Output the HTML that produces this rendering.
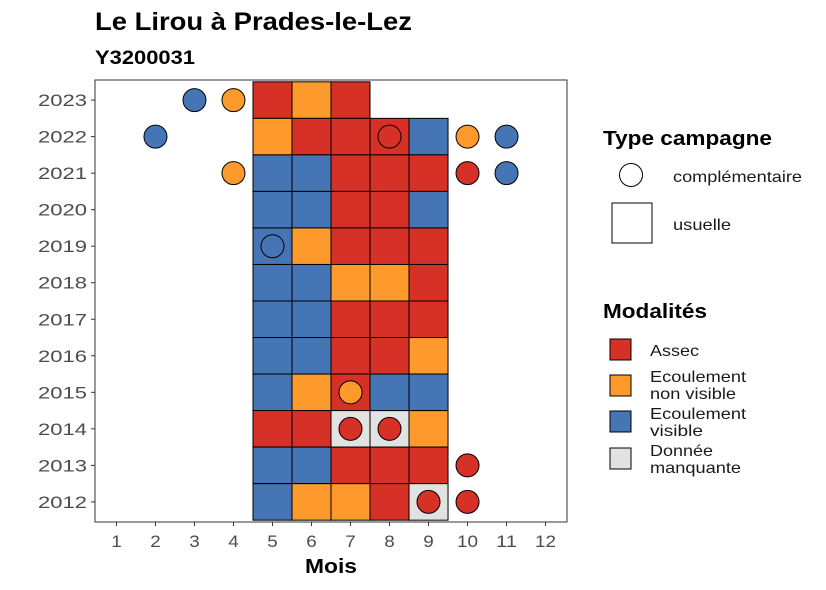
<!DOCTYPE html>
<html><head><meta charset="utf-8">
<style>
html,body{margin:0;padding:0;background:#fff;}
svg{display:block;font-family:"Liberation Sans",sans-serif;}
</style></head>
<body>
<svg id="chart" width="826" height="590" viewBox="0 0 826 590" xmlns="http://www.w3.org/2000/svg">
<text x="95" y="30" font-size="25" font-weight="bold" fill="#000" textLength="317" lengthAdjust="spacingAndGlyphs">Le Lirou à Prades-le-Lez</text>
<text x="95" y="64" font-size="19" font-weight="bold" fill="#000" textLength="100" lengthAdjust="spacingAndGlyphs">Y3200031</text>
<rect x="95" y="80" width="472" height="442" fill="#fff"/>
<g id="tiles"></g>
<g id="points"></g>
<rect x="95" y="80" width="472" height="442" fill="none" stroke="#333" stroke-width="1"/>
<g id="xaxis"></g>
<g id="yaxis"></g>
<text x="331" y="573" font-size="20" font-weight="bold" text-anchor="middle" textLength="52" lengthAdjust="spacingAndGlyphs">Mois</text>

<g>
<text x="603" y="145" font-size="20" font-weight="bold" textLength="169" lengthAdjust="spacingAndGlyphs">Type campagne</text>
<circle cx="631" cy="175" r="11.5" fill="#fff" stroke="#000" stroke-width="1"/>
<text x="673" y="182" font-size="16" fill="#1a1a1a" textLength="129" lengthAdjust="spacingAndGlyphs">complémentaire</text>
<rect x="612" y="203" width="40" height="40" fill="#fff" stroke="#000" stroke-width="1"/>
<text x="673" y="230" font-size="16" fill="#1a1a1a" textLength="58" lengthAdjust="spacingAndGlyphs">usuelle</text>
</g>
<g>
<text x="603" y="318" font-size="20" font-weight="bold" textLength="104" lengthAdjust="spacingAndGlyphs">Modalités</text>
<rect x="610" y="339" width="21" height="21" fill="#D73027" stroke="#000"/>
<text x="650" y="356" font-size="16" fill="#1a1a1a" textLength="49" lengthAdjust="spacingAndGlyphs">Assec</text>
<rect x="610" y="375" width="21" height="21" fill="#FD9A2B" stroke="#000"/>
<text font-size="16" fill="#1a1a1a"><tspan x="650" y="382" textLength="96" lengthAdjust="spacingAndGlyphs">Ecoulement</tspan><tspan x="650" y="399" textLength="86" lengthAdjust="spacingAndGlyphs">non visible</tspan></text>
<rect x="610" y="411" width="21" height="21" fill="#4575B4" stroke="#000"/>
<text font-size="16" fill="#1a1a1a"><tspan x="650" y="419" textLength="96" lengthAdjust="spacingAndGlyphs">Ecoulement</tspan><tspan x="650" y="436" textLength="53" lengthAdjust="spacingAndGlyphs">visible</tspan></text>
<rect x="610" y="448" width="21" height="21" fill="#E2E2E2" stroke="#000"/>
<text font-size="16" fill="#1a1a1a"><tspan x="650" y="456" textLength="63" lengthAdjust="spacingAndGlyphs">Donnée</tspan><tspan x="650" y="473" textLength="91" lengthAdjust="spacingAndGlyphs">manquante</tspan></text>
</g>
</svg>
<script>
const months = [1,2,3,4,5,6,7,8,9,10,11,12];
const years = [2012,2013,2014,2015,2016,2017,2018,2019,2020,2021,2022,2023];
// usual campaigns: year, month, modality (A=Assec, O=Ecoulement non visible, B=Ecoulement visible, G=Donnée manquante)
const tileYears  = [2023,2023,2023, 2022,2022,2022,2022,2022, 2021,2021,2021,2021,2021, 2020,2020,2020,2020,2020, 2019,2019,2019,2019,2019, 2018,2018,2018,2018,2018, 2017,2017,2017,2017,2017, 2016,2016,2016,2016,2016, 2015,2015,2015,2015,2015, 2014,2014,2014,2014,2014, 2013,2013,2013,2013,2013, 2012,2012,2012,2012,2012];
const tileMonths = [5,6,7, 5,6,7,8,9, 5,6,7,8,9, 5,6,7,8,9, 5,6,7,8,9, 5,6,7,8,9, 5,6,7,8,9, 5,6,7,8,9, 5,6,7,8,9, 5,6,7,8,9, 5,6,7,8,9, 5,6,7,8,9];
const tileMods   = ["A","O","A", "O","A","A","A","B", "B","B","A","A","A", "B","B","A","A","B", "B","O","A","A","A", "B","B","O","O","A", "B","B","A","A","A", "B","B","A","A","O", "B","O","A","B","B", "A","A","G","G","O", "B","B","A","A","A", "B","O","O","A","G"];
// complementary campaigns
const ptYears  = [2023,2023, 2022,2022,2022,2022, 2021,2021,2021, 2019, 2015, 2014,2014, 2013, 2012,2012];
const ptMonths = [3,4, 2,8,10,11, 4,10,11, 5, 7, 7,8, 10, 9,10];
const ptMods   = ["B","O", "B","A","O","B", "O","A","B", "B", "O", "A","A", "A", "A","A"];

const colors = {A:"#D73027", O:"#FD9A2B", B:"#4575B4", G:"#E2E2E2"};
const X0=95, X1=567, Y0=80, Y1=522;
const xs = m => X0 + (m - 0.45) / 12.1 * (X1 - X0);
const ys = y => Y1 - (y - 2011.45) / 12.1 * (Y1 - Y0);
const bw = (X1-X0)/12.1, bh = (Y1-Y0)/12.1;
const NS = "http://www.w3.org/2000/svg";
const mk = (t, a) => { const e = document.createElementNS(NS, t); for (const k in a) e.setAttribute(k, a[k]); return e; };

const tg = document.getElementById("tiles");
tileYears.forEach((yr, i) => {
  const r = mk("rect", {x: xs(tileMonths[i]) - bw/2, y: ys(yr) - bh/2, width: bw, height: bh, fill: colors[tileMods[i]], stroke: "#000", "stroke-width": 1});
  
  
  tg.appendChild(r);
});
const pg = document.getElementById("points");
ptYears.forEach((yr, i) => {
  const c = mk("circle", {cx: xs(ptMonths[i]), cy: ys(yr), r: 11.5, fill: colors[ptMods[i]], stroke: "#000", "stroke-width": 1});
  
  
  pg.appendChild(c);
});
const xg = document.getElementById("xaxis");
months.forEach(m => {
  const l = mk("line", {x1: xs(m), x2: xs(m), y1: Y1, y2: Y1 + 4, stroke: "#333"});
  
  
  xg.appendChild(l);
  const t = mk("text", {x: xs(m), y: Y1 + 25, "font-size": 17, fill: "#4d4d4d", "text-anchor": "middle", textLength: String(m).length * 10.5, lengthAdjust: "spacingAndGlyphs"});
  t.textContent = m;
  
  
  xg.appendChild(t);
});
const yg = document.getElementById("yaxis");
years.forEach(y => {
  const l = mk("line", {x1: X0 - 4, x2: X0, y1: ys(y), y2: ys(y), stroke: "#333"});
  
  
  yg.appendChild(l);
  const t = mk("text", {x: X0 - 8, y: ys(y) + 6, "font-size": 17, fill: "#4d4d4d", "text-anchor": "end", textLength: 49, lengthAdjust: "spacingAndGlyphs"});
  t.textContent = y;
  
  
  yg.appendChild(t);
});
</script>
</body></html>
